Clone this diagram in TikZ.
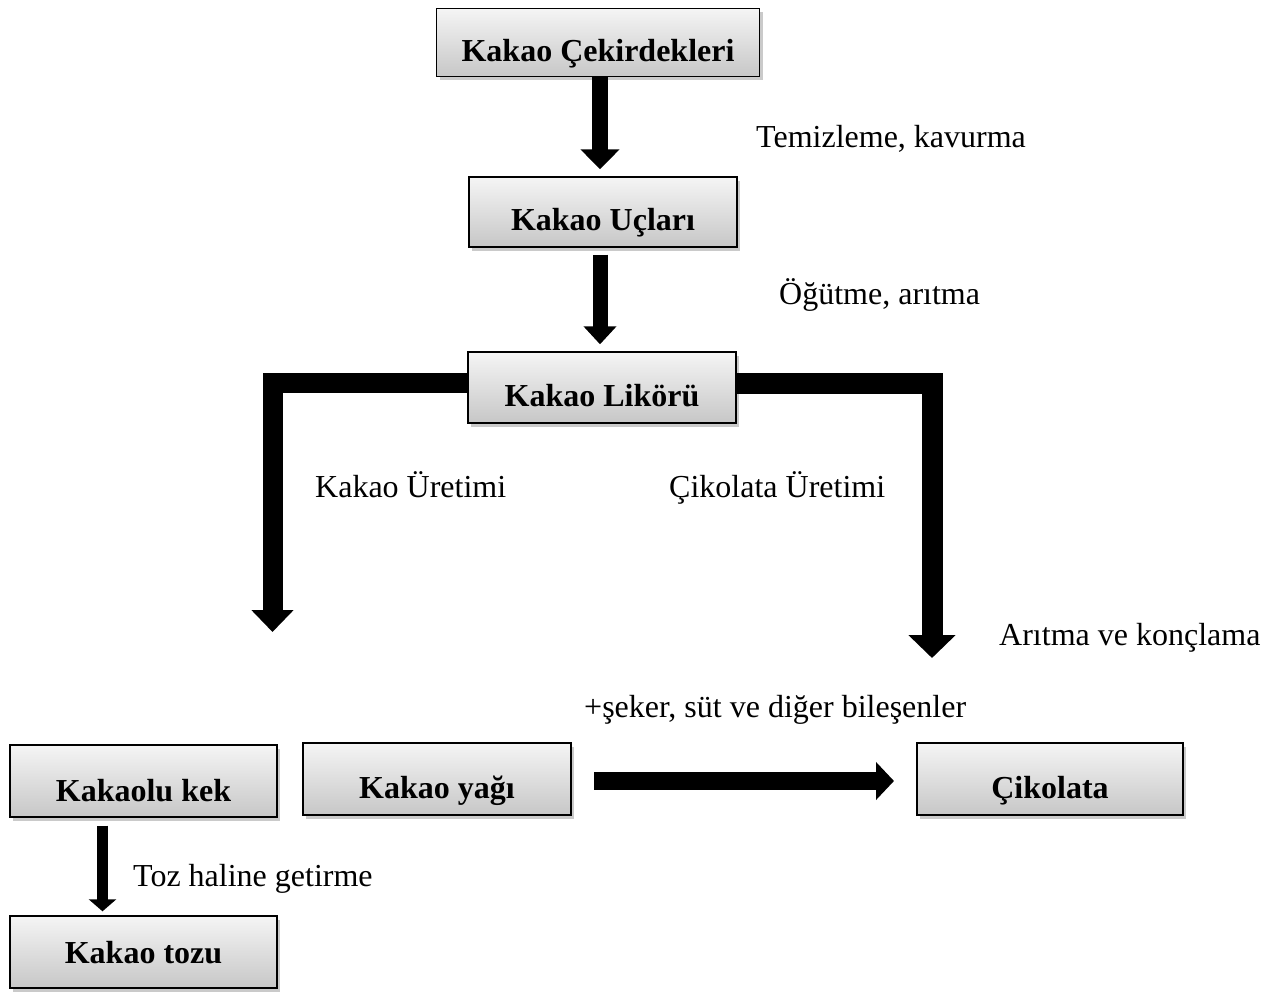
\documentclass[tikz,border=0pt]{standalone}
\usepackage{fontspec}
\setmainfont{Liberation Serif}
\usetikzlibrary{arrows.meta,shadows,calc}
\begin{document}
\begin{tikzpicture}[x=1pt,y=-1pt,
  box/.style={draw=black, line width=1.4pt, rectangle, inner sep=0pt,
    top color=black!4, bottom color=black!22,
    drop shadow={shadow xshift=3pt, shadow yshift=-4pt, opacity=0.35, fill=black!60},
    font=\fontsize{32}{38}\selectfont\bfseries, text height=38pt, text depth=0pt,
    minimum width=268pt, minimum height=71pt},
  lbl/.style={anchor=base west, inner sep=0pt, font=\fontsize{32}{38}\selectfont},
  barrow/.style={draw=black, line cap=butt, line join=miter}
]
\useasboundingbox (0,0) rectangle (1269,992);
% boxes
\node[box, minimum width=323pt, minimum height=68pt] (cek) at (598,42.5) {Kakao Çekirdekleri};
\node[box, minimum height=70pt] (ucl) at (603,212) {Kakao Uçları};
\node[box] (lik) at (602,387.5) {Kakao Likörü};
\node[box, minimum width=267pt, minimum height=72pt, text height=40pt] (kek) at (143.5,781) {Kakaolu kek};
\node[box, minimum height=72pt] (yag) at (437,779) {Kakao yağı};
\node[box, minimum width=266pt, minimum height=72pt] (cik) at (1050,779) {Çikolata};
\node[box, minimum width=267pt, minimum height=72pt, text height=22pt] (toz) at (143.5,952) {Kakao tozu};
% labels
\node[lbl] (l1) at (756,148) {Temizleme, kavurma};
\node[lbl] (l2) at (779,305) {Öğütme, arıtma};
\node[lbl] (l3) at (315,497) {Kakao Üretimi};
\node[lbl] (l4) at (669,497) {Çikolata Üretimi};
\node[lbl] (l5) at (999,645) {Arıtma ve konçlama};
\node[lbl] (l6) at (584,717) {+şeker, süt ve diğer bileşenler};
\node[lbl] (l7) at (133,886) {Toz haline getirme};
% helper coordinates
\coordinate (ax) at (600,0);
\coordinate (lend) at (272.5,632);
\coordinate (rend) at (932,658);
\coordinate (hs) at (594,781);
\coordinate (he) at (894,781);
\coordinate (kx) at (102.5,0);
% arrows
\draw[barrow, line width=16pt, -{Triangle[width=38pt,length=20pt]}]
  (cek.south -| ax) -- ([yshift=7pt]ucl.north -| ax);
\draw[barrow, line width=15pt, -{Triangle[width=32pt,length=18pt]}]
  ([yshift=-7pt]ucl.south -| ax) -- ([yshift=7pt]lik.north -| ax);
\draw[barrow, line width=20pt, -{Triangle[width=41pt,length=22pt]}]
  (lik.west |- 0,383) -- (lend |- 0,383) -- (lend);
\draw[barrow, line width=21pt, -{Triangle[width=46pt,length=23pt]}]
  (lik.east |- 0,383) -- (rend |- 0,383) -- (rend);
\draw[barrow, line width=18pt, -{Triangle[width=37pt,length=18pt]}]
  (hs) -- (he);
\draw[barrow, line width=11pt, -{Triangle[width=27pt,length=12pt]}]
  ([yshift=-8pt]kek.south -| kx) -- ([yshift=4pt]toz.north -| kx);
\end{tikzpicture}
\end{document}
